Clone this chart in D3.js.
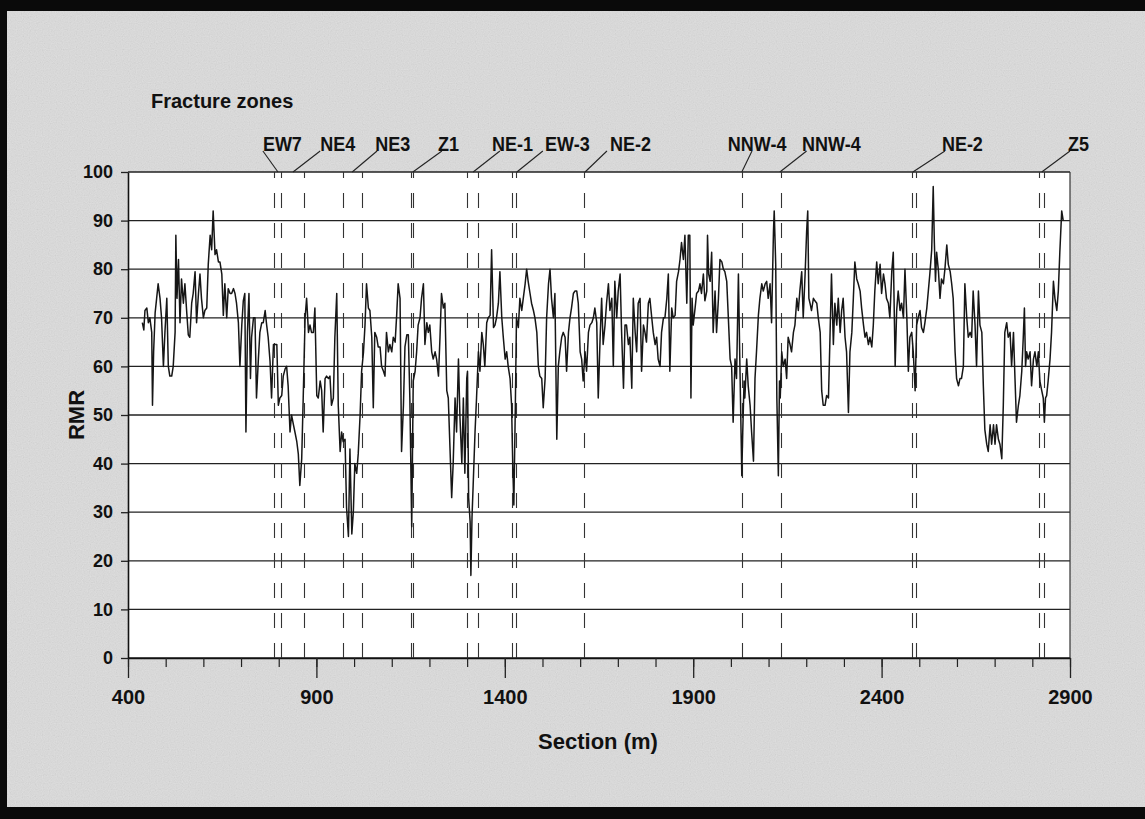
<!DOCTYPE html>
<html>
<head>
<meta charset="utf-8">
<script src="https://cdn.jsdelivr.net/npm/d3@7"></script>
<style>
  html, body { margin: 0; padding: 0; background: #dcdcdc; }
  svg { display: block; }
  text { font-family: "Liberation Sans", Arial, Helvetica, sans-serif; font-weight: bold; fill: #111; }
</style>
</head>
<body>
<svg id="chart" width="1145" height="819"></svg>
<script>
// RMR profile along the section: [section (m), RMR]
var profileWest = [[438,69],[442,67.5],[445,71.5],[450,72],[454,69],[458,70],[463,67],[465,52],[468,63],[472,71],[476,74],[480,77],[485,74],[489,70],[494,60],[498,67],[503,74],[507,60],[511,58],[516,58],[520,60],[525,67],[527,87],[530,74],[534,82],[538,69],[542,78],[547,73],[551,77],[556,71],[560,66.5],[564,66],[569,73],[573,75],[578,79.5],[582,69],[587,75],[591,79],[595,74],[600,70],[604,71.5],[609,72],[613,81],[618,87],[622,84],[626,92],[631,83],[635,84],[640,81.5],[644,81.5],[649,79],[653,70.5],[657,77],[662,70],[666,76],[671,75],[675,75],[680,76],[684,75],[688,73],[693,69],[697,60],[702,68.5],[706,73.5],[710,75],[713,46.5],[717,67],[721,75],[725,57.5],[728,66],[733,70],[737,70],[741,53.5],[746,61.5],[750,67],[755,69],[759,69],[764,71.5],[768,68.5],[772,66],[777,61],[781,53.5],[786,64.5],[790,64.5],[795,64.5],[799,52],[803,53.5],[808,54],[812,58],[817,59.5],[821,60],[825,56],[830,46.5],[834,50],[839,48],[843,46.5],[848,44.5],[852,42],[856,35.5],[861,41],[865,53.5],[870,70],[874,74],[879,67],[883,68.5],[887,67],[892,67],[896,72],[901,54],[905,53.5],[910,57],[914,55],[918,46.5],[923,57.5],[927,58],[932,57.5],[936,58],[940,52],[945,53.5],[949,66],[954,75],[958,52],[963,42.5],[967,46.5],[971,44.5],[976,45],[980,31],[985,25],[989,43],[994,25.5],[998,30],[1002,40],[1007,38],[1011,42],[1016,50],[1020,59],[1025,63],[1029,68.5],[1033,77],[1038,72],[1042,71.5],[1047,66],[1051,51.5],[1055,67],[1060,66],[1064,64],[1069,64],[1073,60],[1078,59],[1082,58],[1086,67],[1091,63],[1095,64.5],[1100,63],[1104,66],[1109,65],[1113,70.5],[1117,77],[1122,74],[1126,42.5],[1131,52],[1135,64],[1140,66.5],[1144,66.5],[1148,53.5],[1153,27],[1157,57],[1162,59],[1166,63],[1170,68.5],[1175,70],[1179,74],[1184,77],[1188,64.5],[1193,69],[1197,67],[1201,68.5],[1206,63],[1210,61.5],[1215,63],[1219,61.5],[1224,58],[1228,66],[1232,75],[1237,72],[1241,73],[1246,55],[1250,53.5]];

var profileMiddle = [[1259,33],[1263,40],[1268,53.5],[1272,46.5],[1277,61.5],[1281,49.5],[1286,40],[1290,53.5],[1294,38],[1299,57.5],[1301,59],[1304,33],[1308,28],[1310,17],[1313,29],[1316,35.5],[1321,46.5],[1325,53.5],[1330,63],[1334,59],[1339,67],[1343,64.5],[1347,60],[1352,69],[1356,70],[1361,70.5],[1365,84],[1370,68],[1374,68.5],[1378,70],[1383,73],[1387,79.5],[1392,70],[1396,66],[1401,61.5],[1405,63],[1409,60],[1414,57.5],[1418,52],[1421,40],[1424,31.5],[1428,52],[1431,70],[1436,68],[1440,74],[1445,71.5],[1449,74],[1454,77],[1458,80],[1462,77.5],[1467,75],[1471,73],[1476,71.5],[1480,70],[1485,67],[1489,60],[1493,58],[1498,57.5],[1502,51.5],[1507,57.5],[1511,70],[1516,77],[1520,80],[1524,74],[1529,70],[1533,75],[1538,45],[1542,60],[1546,63],[1551,66],[1555,67],[1560,66],[1564,59],[1569,67],[1573,70],[1577,72],[1582,75],[1586,75.5],[1591,75.5],[1595,73],[1600,63],[1604,61.5],[1608,57],[1613,63],[1617,59],[1622,67],[1626,68.5],[1631,69],[1635,70],[1639,72],[1644,69],[1648,53.5],[1653,66],[1657,74],[1661,64.5],[1666,68.5],[1670,73],[1675,77],[1679,71.5],[1684,74],[1688,60],[1692,77.5],[1697,70],[1701,75.5],[1706,79],[1710,67],[1715,55.5],[1719,68.5],[1723,68.5],[1728,64.5],[1732,66],[1737,55.5],[1741,74],[1746,67],[1750,63],[1754,73],[1759,74],[1763,59],[1768,68.5],[1772,67],[1776,65],[1781,73],[1785,74],[1790,70],[1794,67],[1799,64.5],[1803,66],[1807,61.5],[1812,60],[1816,67],[1821,70],[1825,70],[1830,74],[1834,79],[1838,59],[1843,72],[1847,70],[1852,70.5],[1856,77.5],[1861,79.5],[1865,82],[1869,85.5],[1874,82],[1878,87],[1883,73],[1887,87],[1891,87],[1894,53.5],[1897,74],[1900,68.5],[1905,72],[1909,75],[1914,75.5],[1918,77],[1922,75],[1927,79],[1931,73.5],[1936,75.5],[1938,87],[1941,79],[1945,77.5],[1949,83.5],[1953,67],[1958,75.5],[1962,67],[1967,74],[1971,82],[1976,81.5],[1980,80],[1984,79.5],[1989,77.5],[1993,70.5],[1998,61.5],[2002,60],[2006,48.5],[2011,61.5],[2015,57.5],[2020,79],[2024,60],[2029,37.5],[2031,45],[2035,57],[2037,53.5],[2042,61.5],[2046,56],[2051,52],[2055,46.5],[2060,40.5],[2064,57.5],[2068,63],[2073,70.5],[2077,74],[2082,77],[2086,75.5]];

var profileEast = [[2091,77],[2095,77.5],[2099,74],[2104,77],[2108,69],[2113,87.7],[2115,92],[2119,81],[2122,53.5],[2126,37.5],[2129,57],[2131,53.5],[2135,63],[2139,60],[2144,61.5],[2148,57.5],[2152,66],[2157,64.5],[2161,63],[2166,67],[2170,68.5],[2175,74],[2179,71.5],[2183,75.5],[2188,79.5],[2192,70],[2197,79],[2201,87.7],[2204,92],[2207,74],[2210,73],[2214,71.5],[2219,74],[2223,73.5],[2228,73],[2232,70],[2237,67],[2241,55],[2245,52],[2250,52],[2254,54],[2259,53.5],[2263,66],[2267,79],[2272,64.5],[2276,73],[2281,68.5],[2285,74],[2290,67],[2294,71.5],[2298,74],[2303,66],[2307,63],[2312,50.5],[2316,63],[2321,67],[2325,74],[2329,81.5],[2334,78],[2338,77],[2343,75.5],[2347,72],[2352,68.5],[2356,66],[2360,67],[2365,64.5],[2369,66],[2374,64],[2378,68.5],[2382,75.5],[2387,81.5],[2391,77],[2396,81],[2400,75],[2405,79],[2409,77],[2413,74],[2418,73],[2422,70],[2427,79.5],[2431,83.5],[2436,60],[2440,71.5],[2444,75.5],[2449,71.5],[2453,73],[2458,70],[2462,80],[2467,70],[2471,59],[2475,66],[2480,67],[2484,63],[2489,55],[2493,68.5],[2497,70],[2502,71.5],[2506,68],[2511,67],[2515,69],[2520,72],[2524,75.5],[2528,79],[2533,84],[2537,97],[2540,85.5],[2543,77.5],[2546,83.5],[2551,79.5],[2555,74],[2559,78],[2564,77],[2568,80],[2573,85],[2577,81],[2582,79.5],[2586,77],[2590,74],[2595,63],[2599,57.5],[2604,56],[2608,57.5],[2612,57.5],[2617,60],[2621,77],[2626,70],[2630,66],[2635,67],[2639,66],[2643,75.5],[2648,68.5],[2652,60],[2657,75.5],[2661,68.5],[2666,67],[2670,56],[2674,47],[2679,44],[2683,42.5],[2688,48],[2692,44],[2697,48],[2701,44],[2705,48],[2710,45],[2714,44],[2719,41],[2723,52],[2727,67],[2732,69],[2736,66],[2741,67],[2745,60],[2750,67],[2754,57.5],[2758,48.5],[2763,52],[2767,54],[2772,59],[2776,66],[2779,72],[2782,60],[2785,63],[2789,61.5],[2794,63],[2798,56],[2803,61.5],[2807,63],[2812,60],[2816,63],[2820,57],[2825,55],[2829,53.5],[2832,48.5],[2835,53.5],[2838,54],[2842,57],[2847,61.5],[2851,67],[2856,77.5],[2860,74],[2865,71.5],[2869,75.5],[2873,83.5],[2878,92],[2882,90]];

// fracture zones crossed by the section (m)
var zoneLines = [788, 805, 868, 970, 1020, 1150, 1157, 1301, 1330, 1418, 1431, 1611, 2029, 2133, 2482, 2490, 2819, 2831];
var zoneNames = ["EW7", "NE4", "NE3", "Z1", "NE-1", "EW-3", "NE-2", "NNW-4", "NNW-4", "NE-2", "Z5"];
var zoneLabelAt = [758, 910, 1056, 1223, 1366, 1507, 1679, 1992, 2189, 2560, 2895];
var zoneLeaderTop = [758, 910, 1061, 1233, 1387, 1501, 1671, 2056, 2201, 2568, 2900];
var zoneLeaderEnd = [798, 838, 995, 1156, 1316, 1432, 1613, 2029, 2130, 2483, 2825];

var yTicks = [0, 10, 20, 30, 40, 50, 60, 70, 80, 90, 100];
var xMajorTicks = [400, 900, 1400, 1900, 2400, 2900];
var xMinorTicks = d3.range(400, 2901, 100);

var svg = d3.select("#chart"),
  W = +svg.attr("width"),
  H = +svg.attr("height"),
  margin = { top: 172, right: 75, bottom: 161, left: 128 },
  width = W - margin.left - margin.right,
  height = H - margin.top - margin.bottom;

var x = d3.scaleLinear().domain([400, 2900]).range([margin.left, margin.left + width]);
var y = d3.scaleLinear().domain([0, 100]).range([margin.top + height, margin.top]);

// scanned-paper background
var defs = svg.append("defs");
var grain = defs.append("filter").attr("id", "grain").attr("x", 0).attr("y", 0).attr("width", 1).attr("height", 1);
grain.append("feTurbulence").attr("type", "fractalNoise").attr("baseFrequency", 0.85).attr("numOctaves", 1).attr("seed", 7);
grain.append("feColorMatrix").attr("type", "matrix")
  .attr("values", "0.33 0.33 0.33 0 0  0.33 0.33 0.33 0 0  0.33 0.33 0.33 0 0  0 0 0 0 1");

svg.append("rect").attr("width", W).attr("height", H).attr("fill", "#e0e0e0");
svg.append("rect").attr("width", W).attr("height", H).attr("filter", "url(#grain)").attr("opacity", 0.2);

// black scan edges
svg.append("rect").attr("x", 0).attr("y", 0).attr("width", W).attr("height", 11).attr("fill", "#0a0a0a");
svg.append("rect").attr("x", 0).attr("y", 0).attr("width", 7).attr("height", H).attr("fill", "#0a0a0a");
svg.append("rect").attr("x", 0).attr("y", H - 12).attr("width", W).attr("height", 12).attr("fill", "#0a0a0a");

// plot area
svg.append("rect")
  .attr("x", margin.left).attr("y", margin.top)
  .attr("width", width).attr("height", height)
  .attr("fill", "#fff");

// gridlines
svg.append("g").selectAll("line")
  .data(yTicks)
  .enter().append("line")
  .attr("x1", margin.left).attr("x2", margin.left + width)
  .attr("y1", function (d) { return y(d); })
  .attr("y2", function (d) { return y(d); })
  .attr("stroke", "#222")
  .attr("stroke-width", 1.3);

// right border
svg.append("line")
  .attr("x1", margin.left + width).attr("x2", margin.left + width)
  .attr("y1", margin.top).attr("y2", margin.top + height)
  .attr("stroke", "#333").attr("stroke-width", 1.2);

// fracture zone lines
svg.append("g").selectAll("line")
  .data(zoneLines)
  .enter().append("line")
  .attr("x1", function (d) { return Math.round(x(d)) + 0.5; })
  .attr("x2", function (d) { return Math.round(x(d)) + 0.5; })
  .attr("y1", margin.top).attr("y2", margin.top + height)
  .attr("stroke", "#333")
  .attr("stroke-width", 1.1)
  .attr("stroke-dasharray", "15,15")
  .attr("stroke-dashoffset", 9);

// RMR profile
var line = d3.line()
  .x(function (d) { return x(d[0]); })
  .y(function (d) { return y(d[1]); });

svg.append("path")
  .datum(profileWest.concat(profileMiddle, profileEast))
  .attr("d", line)
  .attr("fill", "none")
  .attr("stroke", "#161616")
  .attr("stroke-width", 1.5)
  .attr("stroke-linejoin", "round");

// axes
var yAxis = svg.append("g")
  .attr("transform", "translate(" + margin.left + ",0)")
  .call(d3.axisLeft(y).tickValues(yTicks).tickSize(7).tickSizeOuter(0).tickPadding(8));
yAxis.select(".domain").attr("stroke", "#111").attr("stroke-width", 1.6);
yAxis.selectAll(".tick line").attr("stroke", "#222").attr("stroke-width", 1.3);
yAxis.selectAll("text").style("font-size", "18px").attr("fill", "#111");

var xMinor = svg.append("g")
  .attr("transform", "translate(0," + (margin.top + height) + ")")
  .call(d3.axisBottom(x).tickValues(xMinorTicks).tickSize(9).tickSizeOuter(0).tickFormat(""));
xMinor.select(".domain").attr("stroke", "#111").attr("stroke-width", 1.6);
xMinor.selectAll(".tick line").attr("stroke", "#222").attr("stroke-width", 1.2);

var xMajor = svg.append("g")
  .attr("transform", "translate(0," + (margin.top + height) + ")")
  .call(d3.axisBottom(x).tickValues(xMajorTicks).tickSize(20).tickSizeOuter(0).tickPadding(12).tickFormat(d3.format("d")));
xMajor.select(".domain").remove();
xMajor.selectAll(".tick line").attr("stroke", "#222").attr("stroke-width", 1.3);
xMajor.selectAll("text").style("font-size", "20px").attr("fill", "#111");

// axis titles
svg.append("text")
  .attr("x", 598).attr("y", 749)
  .attr("text-anchor", "middle")
  .style("font-size", "22px")
  .text("Section (m)");

svg.append("text")
  .attr("transform", "translate(84," + y(50) + ") rotate(-90)")
  .attr("text-anchor", "middle")
  .style("font-size", "22px")
  .text("RMR");

svg.append("text")
  .attr("x", 151).attr("y", 108)
  .style("font-size", "20px")
  .text("Fracture zones");

// zone labels with leaders
var labels = svg.append("g");
zoneNames.forEach(function (name, i) {
  labels.append("line")
    .attr("x1", x(zoneLeaderTop[i])).attr("y1", 151)
    .attr("x2", x(zoneLeaderEnd[i])).attr("y2", margin.top)
    .attr("stroke", "#222").attr("stroke-width", 1.1);
  labels.append("g")
    .attr("transform", "translate(" + x(zoneLabelAt[i]) + ",151) scale(0.9,1)")
    .append("text")
    .style("font-size", "20px")
    .text(name);
});
</script>
</body>
</html>
